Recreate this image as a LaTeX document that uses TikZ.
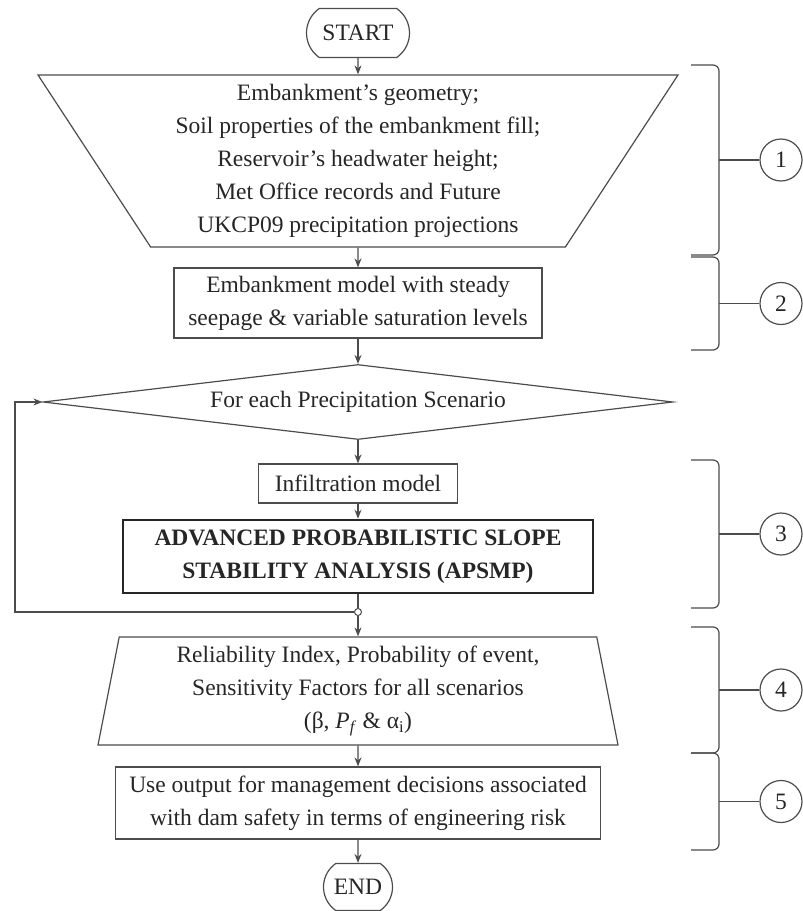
\documentclass[tikz,border=0pt]{standalone}
\usepackage{fontspec}
\setmainfont{Liberation Serif}
\usetikzlibrary{shapes.geometric,shapes.misc,arrows.meta}

\begin{document}
\begin{tikzpicture}[x=1pt,y=-1pt,
  line width=1.2pt, draw=black!70, text=black!85,
  font=\fontsize{23.5}{33}\selectfont,
  box/.style={draw, rectangle, inner sep=0pt, align=center},
  term/.style={draw, rounded rectangle, rounded rectangle arc length=110, inner sep=0pt},
  trap/.style={draw, trapezium, trapezium stretches body, inner sep=0pt, align=center},
  num/.style={draw, circle, minimum size=42, inner sep=0pt},
  arr/.style={-{Stealth[length=9pt,width=7pt]}}]

\useasboundingbox (0,0) rectangle (803,911);

% Start
\node[term, minimum width=103, minimum height=49] (start) at (358,33) {START};

% Input data (inverted trapezium)
\node[trap, shape border rotate=180, trapezium left angle=53.7, trapezium right angle=53.7,
  minimum width=640, minimum height=172] (inputs) at (358,161)
  {Embankment's geometry;\\ Soil properties of the embankment fill;\\ Reservoir's headwater height;\\
   Met Office records and Future\\ UKCP09 precipitation projections};

% Seepage model
\node[box, minimum width=368, minimum height=70] (model) at (358,303)
  {Embankment model with steady\\ seepage \& variable saturation levels};

% Scenario loop
\node[draw, diamond, aspect=8.4, inner sep=0pt, minimum width=630, minimum height=75] (scen) at (358,402)
  {For each Precipitation Scenario};

\node[box, minimum width=199, minimum height=39] (infil) at (358,483.5) {Infiltration model};

\node[box, line width=2.6pt, draw=black!85, minimum width=470, minimum height=73] (apsmp) at (358,556.5)
  {\bfseries ADVANCED PROBABILISTIC SLOPE\\ \bfseries STABILITY ANALYSIS (APSMP)};

\node[draw, circle, fill=white, inner sep=0pt, minimum size=7, line width=1pt] (jn) at (358,612) {};
\coordinate (lp) at (15,612);

% Results (trapezium)
\node[trap, trapezium left angle=76.7, trapezium right angle=76.7,
  minimum width=520, minimum height=108] (results) at (358,691)
  {Reliability Index, Probability of event,\\ Sensitivity Factors for all scenarios\\
   (β, \textit{P}\textsubscript{\textit{f}} \& α\textsubscript{i})};

% Decisions
\node[box, minimum width=485, minimum height=72] (decide) at (358,803)
  {Use output for management decisions associated\\ with dam safety in terms of engineering risk};

% End
\node[term, minimum width=69, minimum height=47] (finish) at (358,887) {END};

% Flow
\draw[arr] (start) -- (inputs);
\draw[arr] (inputs) -- (model);
\draw[arr] (model) -- (scen);
\draw[arr] (scen) -- (infil);
\draw[arr] (infil) -- (apsmp);
\draw (apsmp) -- (jn);
\draw[arr] (jn) -- (results);
\draw[arr] (jn.west) -- (lp) |- (scen.west);
\draw[arr] (results) -- (decide);
\draw[arr] (decide) -- (finish);

% Stage brackets
\draw[rounded corners=6] (691,65) -- (719,65) -- (719,255) -- (691,255);
\draw[rounded corners=6] (691,257) -- (719,257) -- (719,350) -- (691,350);
\draw[rounded corners=6] (691,460) -- (719,460) -- (719,608) -- (691,608);
\draw[rounded corners=6] (691,627) -- (719,627) -- (719,753) -- (691,753);
\draw[rounded corners=6] (691,753) -- (719,753) -- (719,850) -- (691,850);
\coordinate (m1) at (719,160);
\coordinate (m2) at (719,303.5);
\coordinate (m3) at (719,534);
\coordinate (m4) at (719,690);
\coordinate (m5) at (719,801.5);

% Stage numbers
\node[num] (c1) at (781,160) {1};
\node[num] (c2) at (781,303.5) {2};
\node[num] (c3) at (781,534) {3};
\node[num] (c4) at (781,690) {4};
\node[num] (c5) at (781,801.5) {5};
\draw (m1) -- (c1);
\draw (m2) -- (c2);
\draw (m3) -- (c3);
\draw (m4) -- (c4);
\draw (m5) -- (c5);

\end{tikzpicture}
\end{document}
